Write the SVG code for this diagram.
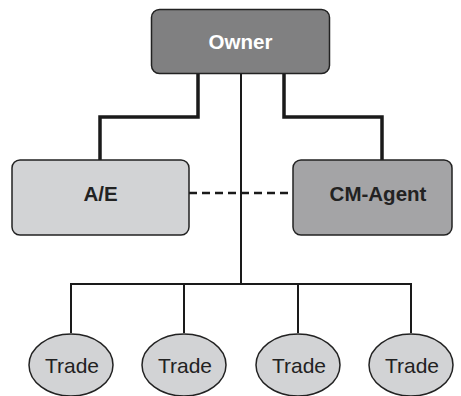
<svg xmlns="http://www.w3.org/2000/svg" width="461" height="396" viewBox="0 0 461 396">
<style>
.box{stroke:#222;stroke-width:1.5}
.lbl{font-family:"Liberation Sans",Arial,sans-serif;font-size:20.5px;font-weight:bold;text-anchor:middle;fill:#222}
.tr{font-family:"Liberation Sans",Arial,sans-serif;font-size:21px;text-anchor:middle;fill:#222}
.thick{fill:none;stroke:#1a1a1a;stroke-width:3.5}
.thin{fill:none;stroke:#1a1a1a;stroke-width:2}
</style>
<rect width="461" height="396" fill="#fff"/>
<g id="connectors">
<path class="thick" d="M198,74 V117 H100 V160"/>
<path class="thick" d="M284,74 V117 H382 V160"/>
<path class="thin" d="M241,74 V284"/>
<path class="thin" d="M71,333 V284 H411 V333 M184,284 V333 M298,284 V333"/>
<path class="thin" d="M189,193 H293" stroke-dasharray="8,5" style="stroke-width:2.5"/>
</g>
<g id="owner">
<rect class="box" x="151.5" y="9.5" width="178" height="64" rx="8" fill="#808081"/>
<text class="lbl" x="240.5" y="49" style="fill:#fff">Owner</text>
</g>
<g id="ae">
<rect class="box" x="12" y="160" width="177" height="75" rx="8" fill="#d2d3d5"/>
<text class="lbl" x="100.5" y="201">A/E</text>
</g>
<g id="cmagent">
<rect class="box" x="293" y="160" width="159" height="75" rx="8" fill="#a4a4a6"/>
<text class="lbl" x="378" y="201">CM-Agent</text>
</g>
<g id="trade1">
<ellipse class="box" cx="71" cy="365" rx="42" ry="31" fill="#d2d3d5"/>
<text class="tr" x="72" y="373">Trade</text>
</g>
<g id="trade2">
<ellipse class="box" cx="184" cy="365" rx="42" ry="31" fill="#d2d3d5"/>
<text class="tr" x="185" y="373">Trade</text>
</g>
<g id="trade3">
<ellipse class="box" cx="298" cy="365" rx="42" ry="31" fill="#d2d3d5"/>
<text class="tr" x="299" y="373">Trade</text>
</g>
<g id="trade4">
<ellipse class="box" cx="411" cy="365" rx="42" ry="31" fill="#d2d3d5"/>
<text class="tr" x="412" y="373">Trade</text>
</g>
</svg>
